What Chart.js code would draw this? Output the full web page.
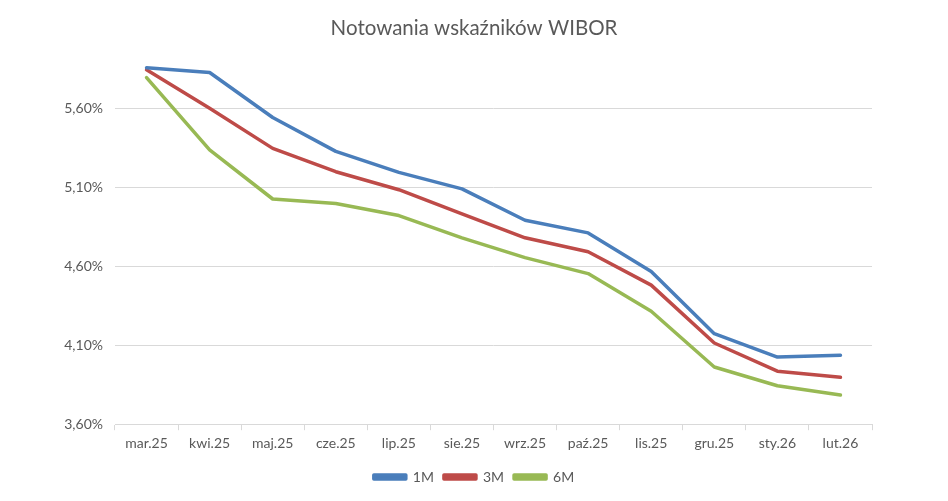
<!DOCTYPE html>
<html><head><meta charset="utf-8">
<script src="https://cdn.jsdelivr.net/npm/chart.js@4"></script>
<style>html,body{margin:0;padding:0;background:#fff}</style>
</head><body>
<canvas id="c" width="948" height="501"></canvas>
<script>
const categories = ['mar.25','kwi.25','maj.25','cze.25','lip.25','sie.25','wrz.25','paź.25','lis.25','gru.25','sty.26','lut.26'];
const wibor1M = [5.86,5.83,5.545,5.33,5.197,5.092,4.893,4.813,4.568,4.174,4.026,4.037];
const wibor3M = [5.847,5.604,5.349,5.201,5.087,4.934,4.782,4.694,4.482,4.115,3.936,3.897];
const wibor6M = [5.798,5.34,5.028,5.0,4.923,4.782,4.656,4.555,4.316,3.963,3.844,3.785];
const yTicks = [3.6,4.1,4.6,5.1,5.6];

const FONT = 'Lato, "Open Sans", sans-serif';
const TXT = '#595959';
const GRID = '#d9d9d9';
function ds(label, data, color){
  return {label, data, borderColor: color, backgroundColor: color, borderWidth: 3.5,
    pointRadius: 0, pointHoverRadius: 0, tension: 0, fill: false, borderCapStyle: 'round', borderJoinStyle: 'round'};
}
new Chart(document.getElementById('c'), {
  type: 'line',
  data: { labels: categories, datasets: [
    ds('1M', wibor1M, '#4A7EBB'),
    ds('3M', wibor3M, '#BE4B48'),
    ds('6M', wibor6M, '#98B954')
  ]},
  options: {
    responsive: false, devicePixelRatio: 1, animation: false,
    layout: { padding: { left: 50, right: 50, top: 8, bottom: 7 } },
    plugins: {
      title: { display: true, text: 'Notowania wskaźników WIBOR', color: TXT,
        font: { family: FONT, size: 20.5, weight: 'normal' }, padding: { top: 8, bottom: 13 } },
      legend: { position: 'bottom', labels: { color: TXT, font: { family: FONT, size: 14 },
        boxWidth: 32, boxHeight: 4, padding: 10 } },
      tooltip: { enabled: false }
    },
    scales: {
      x: {
        offset: true,
        afterFit: (axis) => { axis.height += 3; },
        grid: { display: true, offset: true, drawOnChartArea: false, color: GRID, tickLength: 6 },
        border: { display: true, color: GRID },
        ticks: { color: TXT, font: { family: FONT, size: 14 }, maxRotation: 0, padding: 5 }
      },
      y: {
        min: 3.6, max: 5.95,
        afterBuildTicks: (axis) => { axis.ticks = yTicks.map(v => ({ value: v })); },
        afterFit: (axis) => { axis.width = 65; },
        grid: { color: GRID, lineWidth: 1, tickLength: 0, drawTicks: false },
        border: { display: false },
        ticks: { color: TXT, font: { family: FONT, size: 14 }, padding: 12,
          callback: (v) => v.toFixed(2).replace('.', ',') + '%' }
      },
      yRight: {
        type: 'linear', position: 'right', display: true, min: 3.6, max: 5.95,
        afterFit: (axis) => { axis.width = 26; },
        grid: { display: false, drawTicks: false },
        border: { display: false },
        ticks: { display: false }
      }
    }
  }
});
</script>
</body></html>
